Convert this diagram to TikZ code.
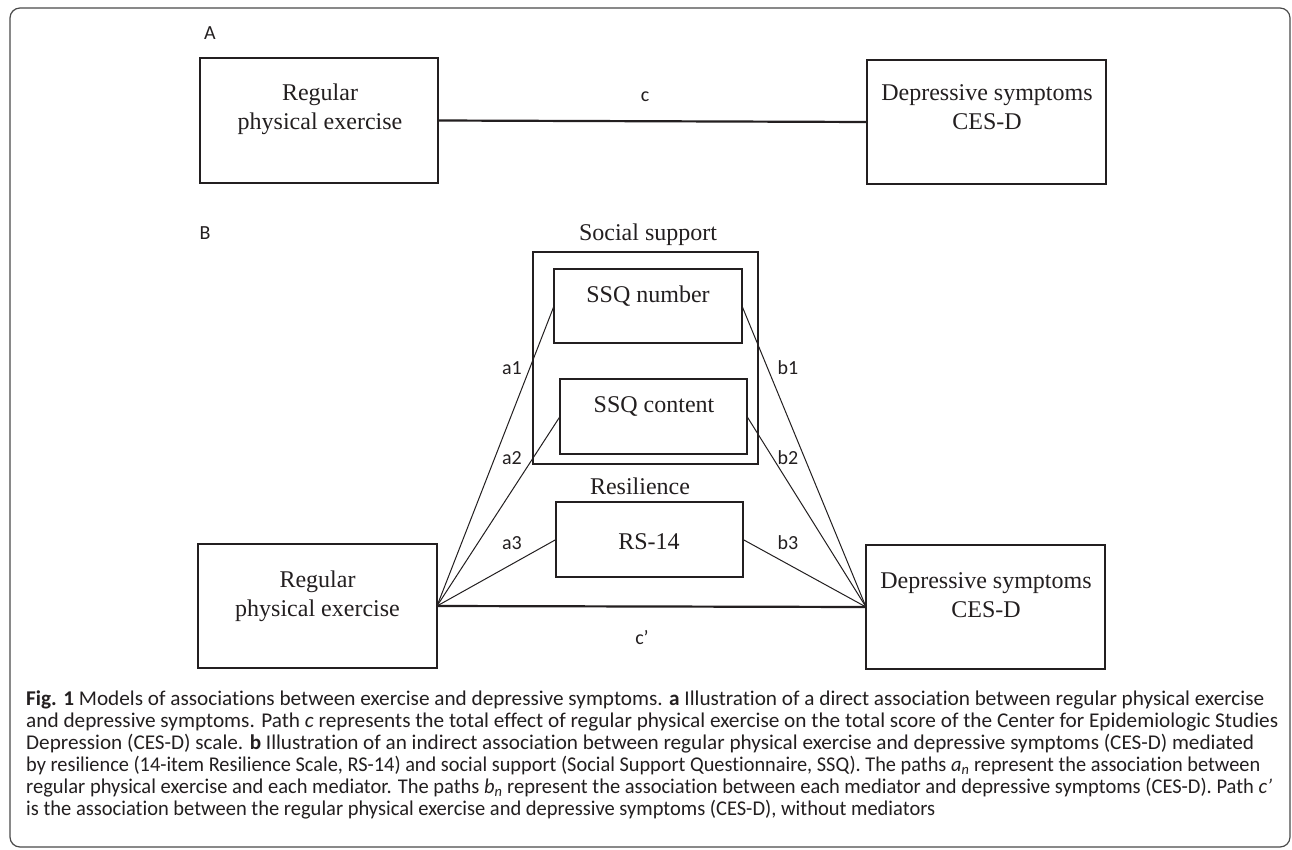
\documentclass[tikz,border=0pt]{standalone}
\usepackage{fontspec}
\setmainfont{Liberation Serif}
\newfontfamily\capfont[Ligatures=NoCommon]{Carlito}
\definecolor{ink}{HTML}{231F20}
\definecolor{framegray}{HTML}{4A4A4A}
\begin{document}
\begin{tikzpicture}[x=1pt,y=-1pt,
  box/.style={draw=ink, line width=2.6pt, inner sep=0pt, outer sep=0pt},
  boxtext/.style={text=ink, inner sep=0pt, anchor=base, font=\fontsize{24}{29}\selectfont},
  pathlbl/.style={text=ink, inner sep=0pt, anchor=base, font=\capfont\fontsize{20}{24}\selectfont},
  capline/.style={text=ink, inner sep=0pt, anchor=base west, font=\capfont\fontsize{21}{25}\selectfont},
  thin link/.style={draw=ink, line width=1pt},
  thick link/.style={draw=ink, line width=2.2pt}]
\useasboundingbox (0,0) rectangle (1292,850);
\fill[white] (0,0) rectangle (1292,850);
\draw[framegray, line width=1.2pt, rounded corners=10pt] (10,8) rectangle (1290,847);

% panel labels
\node[pathlbl] (lblA) at (210,40) {A};
\node[pathlbl] (lblB) at (205,240) {B};

% panel A
\node[box, minimum width=238pt, minimum height=125pt] (pe1) at (319,120.5) {};
\node[boxtext] (pe1a) at (320,101) {Regular};
\node[boxtext] (pe1b) at (320,130) {physical exercise};
\node[box, minimum width=239pt, minimum height=124pt] (dep1) at (986.5,122) {};
\node[boxtext] (dep1a) at (987,101) {Depressive symptoms};
\node[boxtext] (dep1b) at (987,130) {CES-D};
\draw[thick link] (pe1.east) -- (dep1.west);
\node[pathlbl] (lblc) at (645,102) {c};

% panel B
\node[boxtext] (sstitle) at (648,241) {Social support};
\node[box, minimum width=225pt, minimum height=212pt] (ss) at (645.5,358) {};
\node[box, minimum width=188pt, minimum height=74pt] (ssqn) at (648,306) {};
\node[boxtext] (ssqnt) at (648,302) {SSQ number};
\node[box, minimum width=187pt, minimum height=75pt] (ssqc) at (653.5,416.5) {};
\node[boxtext] (ssqct) at (654,412) {SSQ content};
\node[boxtext] (restitle) at (640,494) {Resilience};
\node[box, minimum width=187pt, minimum height=75pt] (rs) at (649.5,539.5) {};
\node[boxtext] (rst) at (649,549) {RS-14};

\node[box, minimum width=239pt, minimum height=124pt] (pe2) at (317.5,606) {};
\node[boxtext] (pe2a) at (317.5,587) {Regular};
\node[boxtext] (pe2b) at (317.5,616) {physical exercise};
\node[box, minimum width=239pt, minimum height=124pt] (dep2) at (985.5,607) {};
\node[boxtext] (dep2a) at (986,588) {Depressive symptoms};
\node[boxtext] (dep2b) at (986,617) {CES-D};

\draw[thin link] (pe2.east) -- (ssqn.west);
\draw[thin link] (pe2.east) -- (ssqc.west);
\draw[thin link] (pe2.east) -- (rs.west);
\draw[thin link] (ssqn.east) -- (dep2.west);
\draw[thin link] (ssqc.east) -- (dep2.west);
\draw[thin link] (rs.east) -- (dep2.west);
\draw[thick link] (pe2.east) -- (dep2.west);

\node[pathlbl] (la1) at (512,374) {a1};
\node[pathlbl] (la2) at (512,464) {a2};
\node[pathlbl] (la3) at (512,549) {a3};
\node[pathlbl] (lb1) at (788,374) {b1};
\node[pathlbl] (lb2) at (788,464) {b2};
\node[pathlbl] (lb3) at (788,549) {b3};
\node[pathlbl] (lcp) at (642,644) {c’};

% caption
\node[capline] (cap1) at (26,705) {\resizebox{1238pt}{\height}{\textbf{Fig. 1} Models of associations between exercise and depressive symptoms. \textbf{a} Illustration of a direct association between regular physical exercise}};
\node[capline] (cap2) at (26,727) {\resizebox{1252pt}{\height}{and depressive symptoms. Path \textit{c} represents the total effect of regular physical exercise on the total score of the Center for Epidemiologic Studies}};
\node[capline] (cap3) at (26,749) {\resizebox{1228pt}{\height}{Depression (CES-D) scale. \textbf{b} Illustration of an indirect association between regular physical exercise and depressive symptoms (CES-D) mediated}};
\node[capline] (cap4) at (26,771) {\resizebox{1234pt}{\height}{by resilience (14-item Resilience Scale, RS-14) and social support (Social Support Questionnaire, SSQ). The paths \textit{a}\textsubscript{\textit{n}} represent the association between}};
\node[capline] (cap5) at (26,793) {\resizebox{1246pt}{\height}{regular physical exercise and each mediator. The paths \textit{b}\textsubscript{\textit{n}} represent the association between each mediator and depressive symptoms (CES-D). Path \textit{c’}}};
\node[capline] (cap6) at (26,815) {\resizebox{909pt}{\height}{is the association between the regular physical exercise and depressive symptoms (CES-D), without mediators}};
\end{tikzpicture}
\end{document}
